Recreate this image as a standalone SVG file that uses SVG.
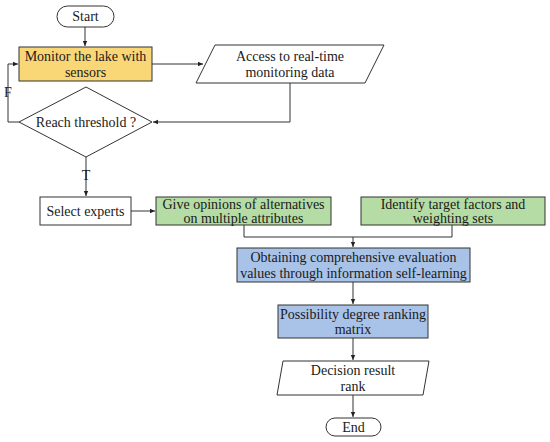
<svg xmlns="http://www.w3.org/2000/svg" width="550" height="442" viewBox="0 0 550 442">
<defs>
<marker id="ah" markerWidth="6" markerHeight="6" refX="5" refY="3" orient="auto" markerUnits="userSpaceOnUse">
<path d="M0,0.8 L5,3 L0,5.2 Z" fill="#222"/>
</marker>
<style>
.s{stroke:#333;stroke-width:1;}
.t{font-family:"Liberation Serif","Times New Roman",serif;font-size:14px;fill:#1a1a1a;text-anchor:middle;}
.c{fill:none;stroke:#333;stroke-width:1;}
.y{fill:#FAD776;}
.g{fill:#B4DCA4;}
.b{fill:#A9C2E8;}
.w{fill:#fff;}
</style>
</defs>
<rect width="550" height="442" fill="#fff"/>
<g id="connectors">
<path class="c" d="M85,27 V46" marker-end="url(#ah)"/>
<path class="c" d="M152,64 H203" marker-end="url(#ah)"/>
<path class="c" d="M290,83 V122 H153" marker-end="url(#ah)"/>
<path class="c" d="M19,122 H8 V64 H18" marker-end="url(#ah)"/>
<path class="c" d="M86,157 V196" marker-end="url(#ah)"/>
<path class="c" d="M131,211 H155" marker-end="url(#ah)"/>
<path class="c" d="M244,225 V237 H452 V225"/>
<path class="c" d="M353,237 V247" marker-end="url(#ah)"/>
<path class="c" d="M353,282 V304" marker-end="url(#ah)"/>
<path class="c" d="M353,338 V360" marker-end="url(#ah)"/>
<path class="c" d="M353,395 V417" marker-end="url(#ah)"/>
<text class="t" x="8" y="97">F</text>
<text class="t" x="86" y="180">T</text>
</g>
<g id="start">
<rect class="s w" x="57" y="6" width="57" height="21" rx="10.5"/>
<text class="t" x="85.5" y="21">Start</text>
</g>
<g id="monitor">
<rect class="s y" x="19" y="47" width="133" height="34"/>
<text class="t" x="85.5" y="61">Monitor the lake with</text>
<text class="t" x="85.5" y="77">sensors</text>
</g>
<g id="access">
<polygon class="s w" points="215,45 384,45 365,83 196,83"/>
<text class="t" x="290" y="61">Access to real-time</text>
<text class="t" x="290" y="77">monitoring data</text>
</g>
<g id="threshold">
<polygon class="s w" points="86,87 152,122 86,157 19,122"/>
<text class="t" x="86" y="127">Reach threshold ?</text>
</g>
<g id="select">
<rect class="s w" x="40" y="197" width="91" height="28"/>
<text class="t" x="85.5" y="216">Select experts</text>
</g>
<g id="opinions">
<rect class="s g" x="156" y="197" width="175" height="28"/>
<text class="t" x="243.5" y="209">Give opinions of alternatives</text>
<text class="t" x="243.5" y="223">on multiple attributes</text>
</g>
<g id="identify">
<rect class="s g" x="361" y="197" width="184" height="28"/>
<text class="t" x="453" y="209">Identify target factors and</text>
<text class="t" x="453" y="223">weighting sets</text>
</g>
<g id="obtain">
<rect class="s b" x="237" y="248" width="233" height="34"/>
<text class="t" x="353.5" y="262">Obtaining comprehensive evaluation</text>
<text class="t" x="353.5" y="278">values through information self-learning</text>
</g>
<g id="possibility">
<rect class="s b" x="278" y="305" width="150" height="33"/>
<text class="t" x="353" y="319">Possibility degree ranking</text>
<text class="t" x="353" y="334">matrix</text>
</g>
<g id="decision">
<polygon class="s w" points="283,361 429,361 423,395 277,395"/>
<text class="t" x="353" y="375">Decision result</text>
<text class="t" x="353" y="391">rank</text>
</g>
<g id="end">
<rect class="s w" x="326" y="418" width="55" height="18" rx="9"/>
<text class="t" x="353.5" y="431.5">End</text>
</g>
</svg>
